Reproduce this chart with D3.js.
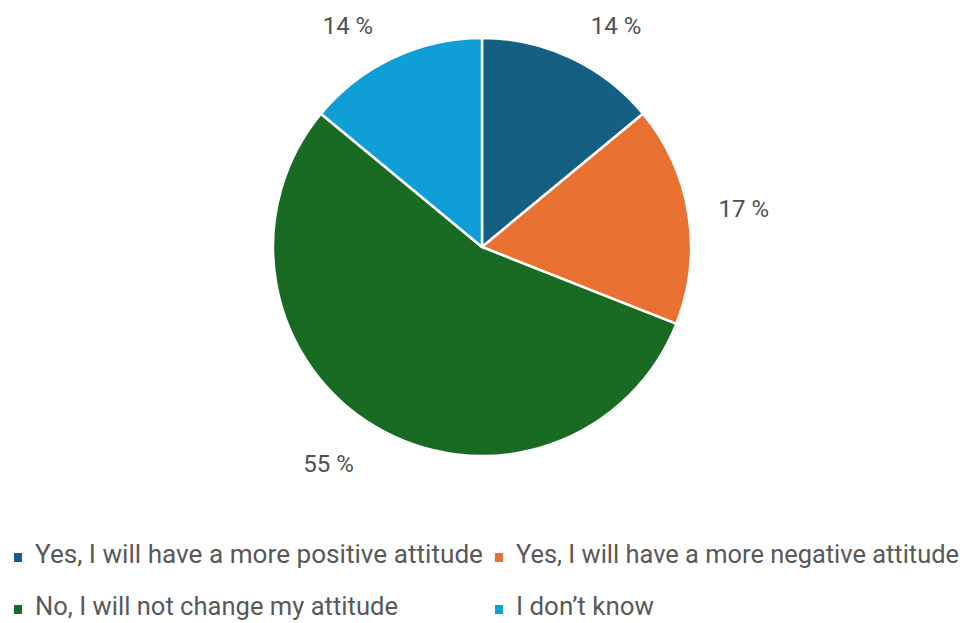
<!DOCTYPE html>
<html>
<head>
<meta charset="utf-8">
<script src="https://cdn.jsdelivr.net/npm/d3@7"></script>
<style>
  html, body { margin: 0; padding: 0; background: #ffffff; }
  svg { display: block; }
</style>
</head>
<body>
<svg id="chart" width="969" height="623"></svg>
<script>
// Survey answers and their shares (percent)
const categories = [
  "Yes, I will have a more positive attitude",
  "Yes, I will have a more negative attitude",
  "No, I will not change my attitude",
  "I don\u2019t know"
];
const values = [14, 17, 55, 14];
const colors = ["#156082", "#E97132", "#196B24", "#0F9ED5"];
// Legend text widths (condensed legend font)
const legendWidths = [448, 443, 363, 138];

const width = 969, height = 623;
const cx = 482, cy = 247, radius = 209;

const svg = d3.select("#chart");
const data = categories.map((c, i) => ({ name: c, value: values[i], color: colors[i] }));

const pie = d3.pie().value(d => d.value).sort(null);
const arcs = pie(data);
const arc = d3.arc().innerRadius(0).outerRadius(radius);

const g = svg.append("g").attr("transform", `translate(${cx},${cy})`);

g.selectAll("path.slice")
  .data(arcs)
  .join("path")
  .attr("class", "slice")
  .attr("d", arc)
  .attr("fill", d => d.data.color)
  .attr("stroke", "#ffffff")
  .attr("stroke-width", 2.5)
  .attr("stroke-linejoin", "round");

// Percentage labels outside the pie, pushed away from the slice bisector
const labelArc = d3.arc().innerRadius(radius + 29).outerRadius(radius + 29);
const labelW = 51;
g.selectAll("text.pct")
  .data(arcs)
  .join("text")
  .attr("class", "pct")
  .attr("text-anchor", "middle")
  .attr("dominant-baseline", "central")
  .attr("font-family", "Roboto, 'Noto Sans', sans-serif")
  .attr("font-size", 24)
  .attr("fill", "#505050")
  .attr("transform", d => {
    const [x, y] = labelArc.centroid(d);
    const a = (d.startAngle + d.endAngle) / 2;
    const s = Math.sin(a) >= 0 ? 1 : -1;
    const dx = s * (labelW / 2 + 8 * Math.abs(Math.cos(a)));
    const dy = -Math.cos(a) * 6 + (Math.cos(a) < 0 ? 7 : 0);
    return `translate(${x + dx},${y + dy})`;
  })
  .text(d => `${d.data.value} %`);

// Legend: two rows, two columns
const legendCols = [13, 494];
const legendRows = [563, 615];
const legend = svg.append("g").attr("class", "legend");
data.forEach((d, i) => {
  const col = i % 2, row = Math.floor(i / 2);
  const x = legendCols[col], y = legendRows[row];
  legend.append("rect")
    .attr("x", x + 1)
    .attr("y", y - 10)
    .attr("width", 8)
    .attr("height", 9)
    .attr("fill", d.color);
  legend.append("text")
    .attr("x", x + 22)
    .attr("y", y)
    .attr("font-family", "Roboto, 'Noto Sans', sans-serif")
    .attr("font-size", 26)
    .attr("fill", "#595959")
    .attr("textLength", legendWidths[i])
    .attr("lengthAdjust", "spacingAndGlyphs")
    .text(d.name);
});
</script>
</body>
</html>
